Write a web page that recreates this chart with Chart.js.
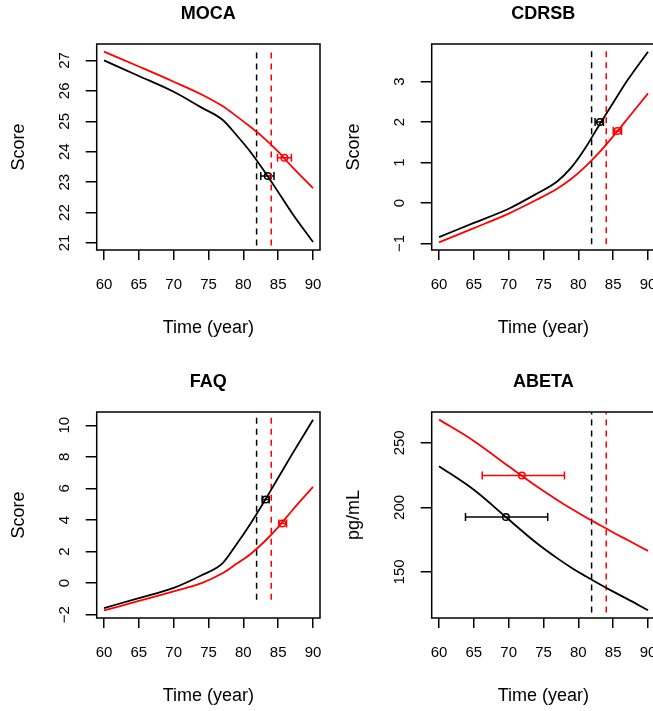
<!DOCTYPE html>
<html>
<head>
<meta charset="utf-8">
<script src="https://cdn.jsdelivr.net/npm/chart.js@4.4.0/dist/chart.umd.min.js"></script>
<style>
  html, body { margin: 0; padding: 0; background: #fff; }
  body { width: 653px; height: 711px; overflow: hidden; position: relative; }
  canvas { position: absolute; }
</style>
</head>
<body>
<canvas id="p0" width="335" height="368" style="left:0px;top:0px"></canvas>
<canvas id="p1" width="335" height="368" style="left:335px;top:0px"></canvas>
<canvas id="p2" width="335" height="368" style="left:0px;top:368px"></canvas>
<canvas id="p3" width="335" height="368" style="left:335px;top:368px"></canvas>
<script>
// values
const titles = ["MOCA", "CDRSB", "FAQ", "ABETA"];
const yTitles = ["Score", "Score", "Score", "pg/mL"];

const years = [60, 65, 70, 74, 77, 79, 81, 83, 85, 87, 90];
const mocaBlack = [27.0, 26.49, 25.97, 25.45, 25.05, 24.55, 24.0, 23.36, 22.68, 21.98, 21.03];
const mocaRed = [27.29, 26.8, 26.3, 25.88, 25.5, 25.17, 24.82, 24.44, 24.0, 23.5, 22.8];
const cdrsbBlack = [-0.84, -0.49, -0.14, 0.23, 0.54, 0.88, 1.36, 1.93, 2.48, 3.02, 3.74];
const cdrsbRed = [-0.97, -0.62, -0.26, 0.08, 0.36, 0.6, 0.9, 1.25, 1.65, 2.07, 2.71];
const faqBlack = [-1.58, -0.95, -0.3, 0.5, 1.25, 2.45, 3.75, 5.18, 6.67, 8.17, 10.35];
const faqRed = [-1.73, -1.13, -0.52, 0.0, 0.62, 1.22, 1.83, 2.62, 3.55, 4.6, 6.1];
const abetaBlack = [231.9, 213.6, 190.6, 172.4, 160.5, 153.3, 146.8, 140.6, 134.7, 129.1, 120.3];
const abetaRed = [268, 251.5, 231.8, 216.3, 205.6, 198.9, 192.6, 186.6, 180.6, 174.9, 166.3];

const blackCurves = [mocaBlack, cdrsbBlack, faqBlack, abetaBlack];
const redCurves = [mocaRed, cdrsbRed, faqRed, abetaRed];

// dashed vertical lines (black, red) and their vertical extent per panel
const cutYears = [81.9, 84.0];
const vlineLo = [20.92, -1.02, -1.05, 118.5];
const vlineHi = [27.35, 3.83, 10.7, 273.5];

// observed points with horizontal bars: [black, red] per panel
const pointX = [[83.5, 85.9], [83.1, 85.6], [83.2, 85.6], [69.6, 71.9]];
const pointY = [[23.2, 23.8], [2.0, 1.78], [5.3, 3.78], [192.6, 224.7]];
const barLo = [[82.5, 84.9], [82.4, 85.0], [82.7, 85.1], [63.8, 66.2]];
const barHi = [[84.4, 86.9], [83.6, 86.2], [83.7, 86.2], [75.6, 78.0]];

const xTicks = [60, 65, 70, 75, 80, 85, 90];
const xRange = [58.95, 91.0];
const yTicks = [[21, 22, 23, 24, 25, 26, 27], [-1, 0, 1, 2, 3], [-2, 0, 2, 4, 6, 8, 10], [150, 200, 250]];
const yRanges = [[20.77, 27.54], [-1.16, 3.93], [-2.21, 10.84], [114.3, 273.9]];

const FONT = '"Liberation Sans", Arial, Helvetica, sans-serif';
Chart.defaults.font.family = FONT;
Chart.defaults.color = "#000";

const fmt = (v) => (v < 0 ? "\u2212" + Math.abs(v) : String(v));

// box around the plot and R-style rotated y tick labels
const rFrame = {
  id: "rFrame",
  afterDraw(chart) {
    const { ctx, chartArea: a } = chart;
    const y = chart.scales.y;
    ctx.save();
    ctx.strokeStyle = "#000";
    ctx.lineWidth = 1.5;
    ctx.strokeRect(a.left, a.top, a.right - a.left, a.bottom - a.top);
    ctx.fillStyle = "#000";
    ctx.font = "15px " + FONT;
    ctx.textAlign = "center";
    ctx.textBaseline = "middle";
    y.ticks.forEach((t) => {
      ctx.save();
      ctx.translate(a.left - 31.5, y.getPixelForValue(t.value));
      ctx.rotate(-Math.PI / 2);
      ctx.fillText(fmt(t.value), 0, 0);
      ctx.restore();
    });
    ctx.restore();
  },
};

const drawPanel = (i) => {
  const canvas = document.getElementById("p" + i);
  const black = "#000000";
  const red = "#ff0000";

  const curve = (vals, color) => ({
    data: years.map((x, k) => ({ x, y: vals[k] })),
    borderColor: color,
    borderWidth: 1.8,
    pointRadius: 0,
    cubicInterpolationMode: "monotone",
    fill: false,
  });
  const vline = (x, color) => ({
    data: [{ x, y: vlineLo[i] }, { x, y: vlineHi[i] }],
    borderColor: color,
    borderWidth: 1.5,
    borderDash: [6, 5],
    pointRadius: 0,
  });
  const bar = (k, color) => ({
    data: [{ x: barLo[i][k], y: pointY[i][k] }, { x: barHi[i][k], y: pointY[i][k] }],
    borderColor: color,
    borderWidth: 1.5,
    pointStyle: "line",
    pointRotation: 90,
    pointRadius: 4,
    pointBorderColor: color,
    pointBorderWidth: 1.5,
  });
  const dot = (k, color) => ({
    data: [{ x: pointX[i][k], y: pointY[i][k] }],
    showLine: false,
    pointStyle: "circle",
    pointRadius: 3.3,
    pointBorderColor: color,
    pointBorderWidth: 1.5,
    pointBackgroundColor: "rgba(0,0,0,0)",
  });

  new Chart(canvas, {
    type: "line",
    data: {
      datasets: [
        curve(blackCurves[i], black),
        curve(redCurves[i], red),
        vline(cutYears[0], black),
        vline(cutYears[1], red),
        bar(0, black),
        bar(1, red),
        dot(0, black),
        dot(1, red),
      ],
    },
    options: {
      responsive: false,
      animation: false,
      events: [],
      layout: { padding: { left: 0, top: 0, bottom: 0, right: 15 } },
      plugins: {
        legend: { display: false },
        tooltip: { enabled: false },
        title: {
          display: true,
          text: titles[i],
          fullSize: false,
          color: "#000",
          font: { size: 18, weight: "bold", lineHeight: 1.2 },
          padding: { top: 3.2, bottom: 19.2 },
        },
      },
      scales: {
        x: {
          type: "linear",
          min: xRange[0],
          max: xRange[1],
          afterBuildTicks: (s) => { s.ticks = xTicks.map((v) => ({ value: v })); },
          afterFit: (s) => { s.height = 118; s.paddingLeft = 0; s.paddingRight = 0; },
          grid: { drawOnChartArea: false, drawTicks: true, tickLength: 10, color: "#000", lineWidth: 1.5 },
          border: { display: false },
          ticks: { padding: 16, font: { size: 15 }, color: "#000", maxRotation: 0 },
          title: {
            display: true,
            text: "Time (year)",
            font: { size: 18, lineHeight: 1.2 },
            color: "#000",
            padding: { top: 0, bottom: 29.2 },
          },
        },
        y: {
          type: "linear",
          min: yRanges[i][0],
          max: yRanges[i][1],
          afterBuildTicks: (s) => { s.ticks = yTicks[i].map((v) => ({ value: v })); },
          afterFit: (s) => { s.width = 96.7; s.paddingTop = 0; s.paddingBottom = 0; },
          grid: { drawOnChartArea: false, drawTicks: true, tickLength: 11, color: "#000", lineWidth: 1.5 },
          border: { display: false },
          ticks: { display: false },
          title: {
            display: true,
            text: yTitles[i],
            font: { size: 18, lineHeight: 1.2 },
            color: "#000",
            padding: { top: 8.7, bottom: 0 },
          },
        },
      },
    },
    plugins: [rFrame],
  });
};

[0, 1, 2, 3].forEach(drawPanel);
</script>
</body>
</html>
